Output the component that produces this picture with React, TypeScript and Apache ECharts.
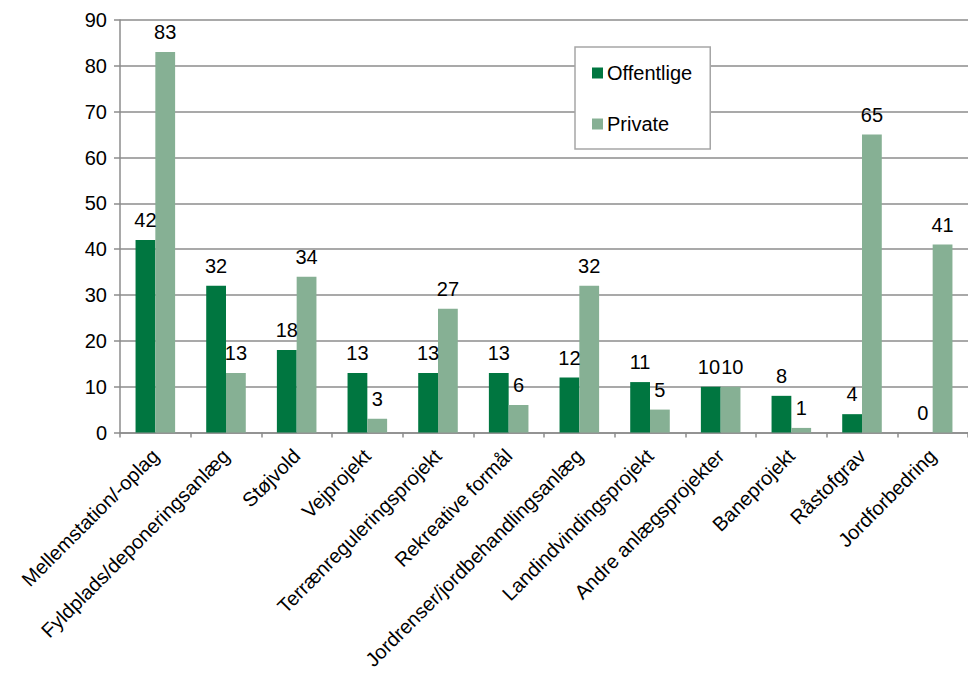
import React, { useEffect, useRef } from "react";
import * as echarts from "echarts";

const categories = [
  "Mellemstation/-oplag",
  "Fyldplads/deponeringsanlæg",
  "Støjvold",
  "Vejprojekt",
  "Terrænreguleringsprojekt",
  "Rekreative formål",
  "Jordrenser/jordbehandlingsanlæg",
  "Landindvindingsprojekt",
  "Andre anlægsprojekter",
  "Baneprojekt",
  "Råstofgrav",
  "Jordforbedring",
];
const offentlige = [42, 32, 18, 13, 13, 13, 12, 11, 10, 8, 4, 0];
const privateVals = [83, 13, 34, 3, 27, 6, 32, 5, 10, 1, 65, 41];
const seriesNames = ["Offentlige", "Private"];

const FONT = "'Liberation Sans', Arial, sans-serif";
const FS = 20;

// nudge the two touching labels ("10" / "10") slightly apart
function withNudge(values: number[], dx: number) {
  return values.map((v, i) =>
    i === 8 ? { value: v, label: { offset: [dx, 0] } } : v
  );
}

export default function App() {
  const ref = useRef<HTMLDivElement>(null);
  useEffect(() => {
    if (!ref.current) return;
    const chart = echarts.init(ref.current, null, { renderer: "svg" });
    const label = {
      show: true,
      position: "top",
      distance: 10,
      fontSize: FS,
      color: "#000",
      fontFamily: FONT,
    };
    chart.setOption({
      animation: false,
      backgroundColor: "#fff",
      textStyle: { fontFamily: FONT },
      grid: { left: 120, top: 20, width: 855, height: 412.5, containLabel: false },
      legend: {
        orient: "vertical",
        left: 575,
        top: 47,
        padding: [16, 18, 15, 17],
        itemGap: 31,
        itemWidth: 11,
        itemHeight: 11,
        icon: "rect",
        backgroundColor: "#fff",
        borderColor: "#a6a6a6",
        borderWidth: 1.5,
        textStyle: { fontSize: FS, color: "#000", fontFamily: FONT, lineHeight: 20, padding: [0, 0, 0, -1] },
        data: seriesNames,
      },
      xAxis: {
        type: "category",
        data: categories,
        axisLine: { show: true, lineStyle: { color: "#8c8c8c", width: 1.5 } },
        axisTick: { show: true, length: 5, lineStyle: { color: "#8c8c8c", width: 1.5 } },
        axisLabel: {
          interval: 0,
          rotate: 45,
          fontSize: FS,
          color: "#000",
          fontFamily: FONT,
          margin: 20,
        },
      },
      yAxis: {
        type: "value",
        min: 0,
        max: 90,
        interval: 10,
        axisLine: { show: true, lineStyle: { color: "#8c8c8c", width: 1.5 } },
        axisTick: { show: true, length: 6, lineStyle: { color: "#8c8c8c", width: 1.5 } },
        axisLabel: { fontSize: FS, color: "#000", fontFamily: FONT, margin: 13 },
        splitLine: { show: true, lineStyle: { color: "#8c8c8c", width: 1.5 } },
      },
      series: [
        {
          name: seriesNames[0],
          type: "bar",
          data: withNudge(offentlige, -1.8),
          barGap: "0%",
          barCategoryGap: "44%",
          itemStyle: { color: "#007640" },
          label,
        },
        {
          name: seriesNames[1],
          type: "bar",
          data: withNudge(privateVals, 1.8),
          barGap: "0%",
          barCategoryGap: "44%",
          itemStyle: { color: "#86b094" },
          label,
        },
      ],
    });
    return () => chart.dispose();
  }, []);
  return (
    <div
      ref={ref}
      style={{ position: "absolute", left: 0, top: 0, width: 968, height: 684 }}
    />
  );
}
